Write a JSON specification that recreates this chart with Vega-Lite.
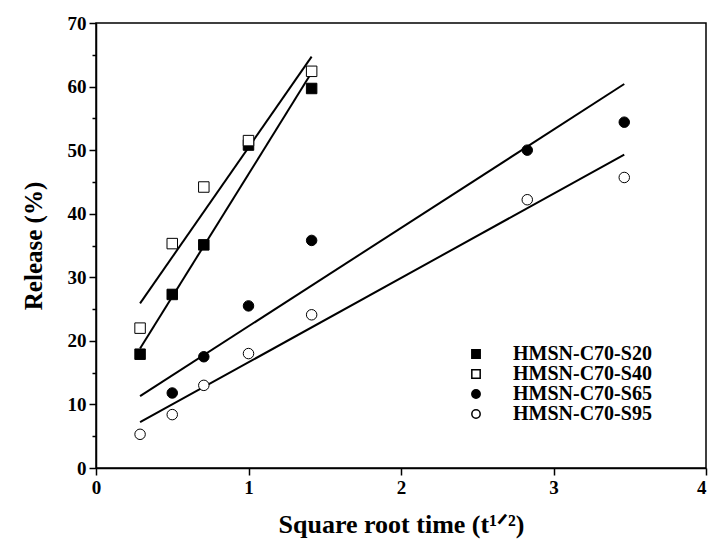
{
  "$schema": "https://vega.github.io/schema/vega-lite/v6.json",
  "width": 610,
  "height": 445,
  "autosize": {"type": "none"},
  "padding": {"left": 96, "top": 23, "right": 3, "bottom": 80},
  "background": "white",
  "config": {
    "view": {"stroke": "black", "strokeWidth": 1.5},
    "font": "Liberation Serif",
    "axis": {
      "domainColor": "black", "domainWidth": 1.5,
      "tickColor": "black", "tickWidth": 1.5,
      "labelFont": "Liberation Serif", "labelFontWeight": "bold", "labelFontSize": 19, "labelColor": "black",
      "titleFont": "Liberation Serif", "titleFontWeight": "bold", "titleFontSize": 25, "titleColor": "black",
      "labelFlush": false,
      "grid": false
    },
    "legend": {
      "labelFont": "Liberation Serif", "labelFontWeight": "bold", "labelFontSize": 20, "labelColor": "black"
    }
  },
  "datasets": {
    "points": [
      {"series": "HMSN-C70-S20", "x": 0.289, "y": 17.9},
      {"series": "HMSN-C70-S20", "x": 0.5, "y": 27.3},
      {"series": "HMSN-C70-S20", "x": 0.707, "y": 35.1},
      {"series": "HMSN-C70-S20", "x": 1.0, "y": 50.8},
      {"series": "HMSN-C70-S20", "x": 1.414, "y": 59.7},
      {"series": "HMSN-C70-S40", "x": 0.289, "y": 22.0},
      {"series": "HMSN-C70-S40", "x": 0.5, "y": 35.3},
      {"series": "HMSN-C70-S40", "x": 0.707, "y": 44.2},
      {"series": "HMSN-C70-S40", "x": 1.0, "y": 51.5},
      {"series": "HMSN-C70-S40", "x": 1.414, "y": 62.4},
      {"series": "HMSN-C70-S65", "x": 0.5, "y": 11.8},
      {"series": "HMSN-C70-S65", "x": 0.707, "y": 17.5},
      {"series": "HMSN-C70-S65", "x": 1.0, "y": 25.5},
      {"series": "HMSN-C70-S65", "x": 1.414, "y": 35.8},
      {"series": "HMSN-C70-S65", "x": 2.828, "y": 50.0},
      {"series": "HMSN-C70-S65", "x": 3.464, "y": 54.4},
      {"series": "HMSN-C70-S95", "x": 0.289, "y": 5.3},
      {"series": "HMSN-C70-S95", "x": 0.5, "y": 8.4},
      {"series": "HMSN-C70-S95", "x": 0.707, "y": 13.0},
      {"series": "HMSN-C70-S95", "x": 1.0, "y": 18.0},
      {"series": "HMSN-C70-S95", "x": 1.414, "y": 24.1},
      {"series": "HMSN-C70-S95", "x": 2.828, "y": 42.2},
      {"series": "HMSN-C70-S95", "x": 3.464, "y": 45.7}
    ],
    "fits": [
      {"series": "HMSN-C70-S20", "x": 0.289, "y": 18.8},
      {"series": "HMSN-C70-S20", "x": 1.414, "y": 62.2},
      {"series": "HMSN-C70-S40", "x": 0.289, "y": 25.9},
      {"series": "HMSN-C70-S40", "x": 1.414, "y": 64.7},
      {"series": "HMSN-C70-S65", "x": 0.289, "y": 11.3},
      {"series": "HMSN-C70-S65", "x": 3.464, "y": 60.4},
      {"series": "HMSN-C70-S95", "x": 0.289, "y": 7.2},
      {"series": "HMSN-C70-S95", "x": 3.464, "y": 49.3}
    ]
  },
  "encoding": {
    "x": {
      "field": "x", "type": "quantitative",
      "scale": {"domain": [0, 4], "nice": false, "zero": false},
      "axis": {
        "title": "Square root time (t¹ᐟ²)",
        "titleFontSize": 26,
        "values": [0, 0.5, 1, 1.5, 2, 2.5, 3, 3.5, 4],
        "format": "d",
        "labelExpr": "datum.value % 1 === 0 ? datum.label : ''",
        "labelAlign": {"condition": {"test": "datum.value === 4", "value": "right"}, "value": "center"},
        "tickSize": {"condition": {"test": "datum.value % 1 === 0", "value": 7}, "value": 4},
        "labelPadding": 3,
        "titlePadding": 14
      }
    },
    "y": {
      "field": "y", "type": "quantitative",
      "scale": {"domain": [0, 70], "nice": false},
      "axis": {
        "title": "Release (%)",
        "titleFontSize": 25,
        "values": [0, 5, 10, 15, 20, 25, 30, 35, 40, 45, 50, 55, 60, 65, 70],
        "format": "d",
        "labelExpr": "datum.value % 10 === 0 ? datum.label : ''",
        "tickSize": {"condition": {"test": "datum.value % 10 === 0", "value": 7}, "value": 4},
        "labelPadding": 3,
        "titlePadding": 21
      }
    }
  },
  "layer": [
    {
      "data": {"name": "fits"},
      "mark": {"type": "line", "color": "black", "strokeWidth": 2},
      "encoding": {"detail": {"field": "series", "type": "nominal"}}
    },
    {
      "data": {"name": "points"},
      "mark": {"type": "point", "size": 110, "stroke": "black", "strokeWidth": 1, "opacity": 1, "filled": true},
      "encoding": {
        "stroke": {"value": "black"},
        "shape": {
          "field": "series", "type": "nominal",
          "scale": {"domain": ["HMSN-C70-S20", "HMSN-C70-S40", "HMSN-C70-S65", "HMSN-C70-S95"], "range": ["square", "square", "circle", "circle"]},
          "legend": {"title": null, "orient": "none", "legendX": 370, "legendY": 321, "symbolSize": 70, "labelOffset": 27, "rowPadding": 0, "padding": 0,
            "encode": {"symbols": {"update": {
              "stroke": {"value": "black"},
              "strokeWidth": {"value": 1},
              "fill": {"signal": "indexof(['HMSN-C70-S40', 'HMSN-C70-S95'], datum.value) >= 0 ? 'white' : 'black'"}
            }}}}
        },
        "fill": {
          "field": "series", "type": "nominal",
          "scale": {"domain": ["HMSN-C70-S20", "HMSN-C70-S40", "HMSN-C70-S65", "HMSN-C70-S95"], "range": ["black", "white", "black", "white"]},
          "legend": null
        }
      }
    }
  ]
}
